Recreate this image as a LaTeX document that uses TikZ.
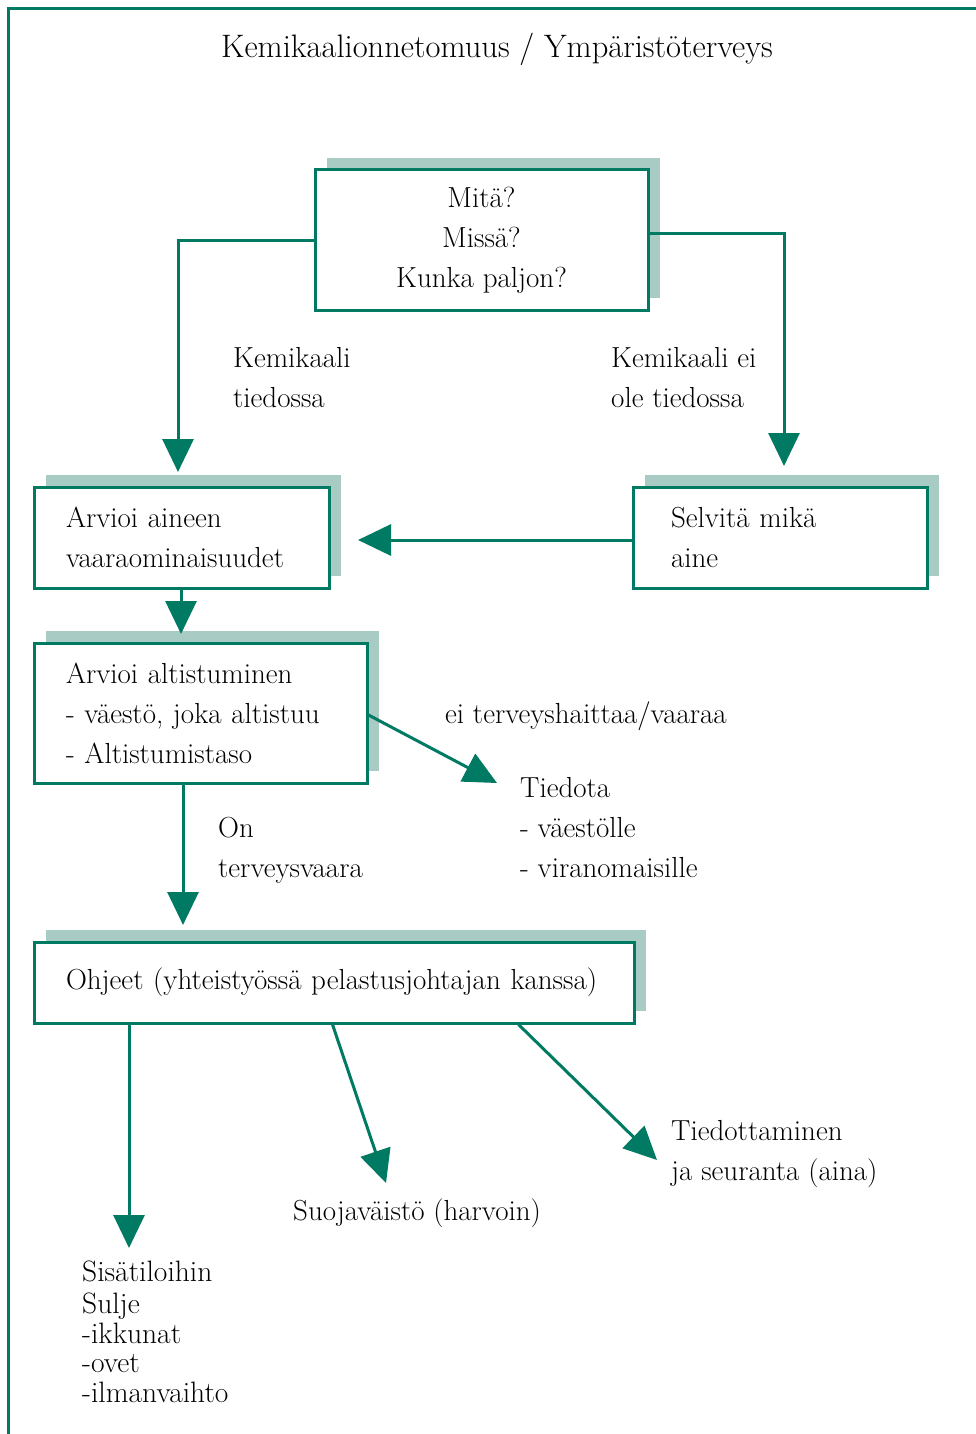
\documentclass[tikz,border=0pt]{standalone}
\usetikzlibrary{arrows.meta,shadows,calc}
\definecolor{teal1}{RGB}{0,122,99}
\definecolor{shade1}{RGB}{168,204,195}
\begin{document}
\begin{tikzpicture}[x=1pt,y=-1pt,
  body/.style={font=\fontsize{29}{40}\selectfont},
  txt/.style={body, inner sep=0pt, anchor=base west, align=left},
  box/.style={body, draw=teal1, line width=3pt, fill=white, inner ysep=0pt,
    drop shadow={shadow xshift=12pt, shadow yshift=12pt, fill=shade1, opacity=1}},
  arr/.style={draw=teal1, line width=3pt, -{Triangle[length=33pt,width=31pt]}},
  conn/.style={draw=teal1, line width=3pt},
]
\useasboundingbox (0,0) rectangle (976,1434);
% frame
\coordinate (f1) at (8,1434);
\coordinate (f2) at (8,9);
\coordinate (f3) at (976,9);
\draw[conn] (f1) -- (f2) -- (f3);
% title
\node[font=\fontsize{32.5}{36}\selectfont, inner sep=0pt, anchor=base] (title) at (497,58) {Kemikaalionnetomuus / Ympäristöterveys};
% boxes
\node[box, minimum width=333pt, minimum height=140pt, align=center] (m) at (481.5,240) {Mitä?\\Missä?\\Kunka paljon?};
\node[box, minimum width=295pt, minimum height=101pt, text width=231pt, inner xsep=32pt, align=left] (a) at (181.5,537.5) {\mbox{Arvioi aineen}\\\mbox{vaaraominaisuudet}};
\node[box, minimum width=294pt, minimum height=101pt, text width=218pt, inner xsep=38pt, align=left] (s) at (780,537.5) {\mbox{Selvitä mikä}\\aine};
\node[box, minimum width=333pt, minimum height=140pt, text width=269pt, inner xsep=32pt, align=left] (b) at (200.5,713) {\mbox{Arvioi altistuminen}\\\mbox{- väestö, joka altistuu}\\\mbox{- Altistumistaso}};
\node[box, minimum width=600pt, minimum height=81pt, text width=536pt, inner xsep=32pt, align=left] (o) at (334,982.5) {\mbox{Ohjeet (yhteistyössä pelastusjohtajan kanssa)}};
% labels (base = last line)
\node[txt] (l1) at (233,407) {Kemikaali\\tiedossa};
\node[txt] (l2) at (611,407) {Kemikaali ei\\ole tiedossa};
\node[txt] (l3) at (445,723) {ei terveyshaittaa/vaaraa};
\node[txt] (t1) at (520,877) {Tiedota\\- väestölle\\- viranomaisille};
\node[txt] (l4) at (218,877) {On\\terveysvaara};
\node[txt] (t2) at (671,1180) {Tiedottaminen\\ja seuranta (aina)};
\node[txt] (t3) at (293,1220) {Suojaväistö (harvoin)};
\node[txt, font=\fontsize{29.5}{29.5}\selectfont] (t4) at (82,1402) {Sisätiloihin\\[3pt]Sulje\\-ikkunat\\-ovet\\-ilmanvaihto};
% arrow ends
\coordinate (e1) at (178,472);
\coordinate (e2) at (784,466);
\coordinate (e3) at (358,540);
\coordinate (e4) at (181,634);
\coordinate (e5) at (497,783);
\coordinate (e6) at (183,925);
\coordinate (e7) at (129,1248);
\coordinate (e8) at (386,1183);
\coordinate (e9) at (657,1160);
% connectors
\draw[arr] (m.west) -| (e1);
\draw[arr] ([yshift=7pt]m.east) -| (e2);
\draw[arr] (e3 -| s.west) -- (e3);
\draw[arr] (e4 |- a.south) -- (e4);
\draw[arr] ([yshift=-2pt]b.east) -- (e5);
\draw[arr] (e6 |- b.south) -- (e6);
\draw[arr] (e7 |- o.south) -- (e7);
\draw[arr] ([xshift=300pt]o.south west) -- (e8);
\draw[arr] ([xshift=486pt]o.south west) -- (e9);
\end{tikzpicture}
\end{document}
